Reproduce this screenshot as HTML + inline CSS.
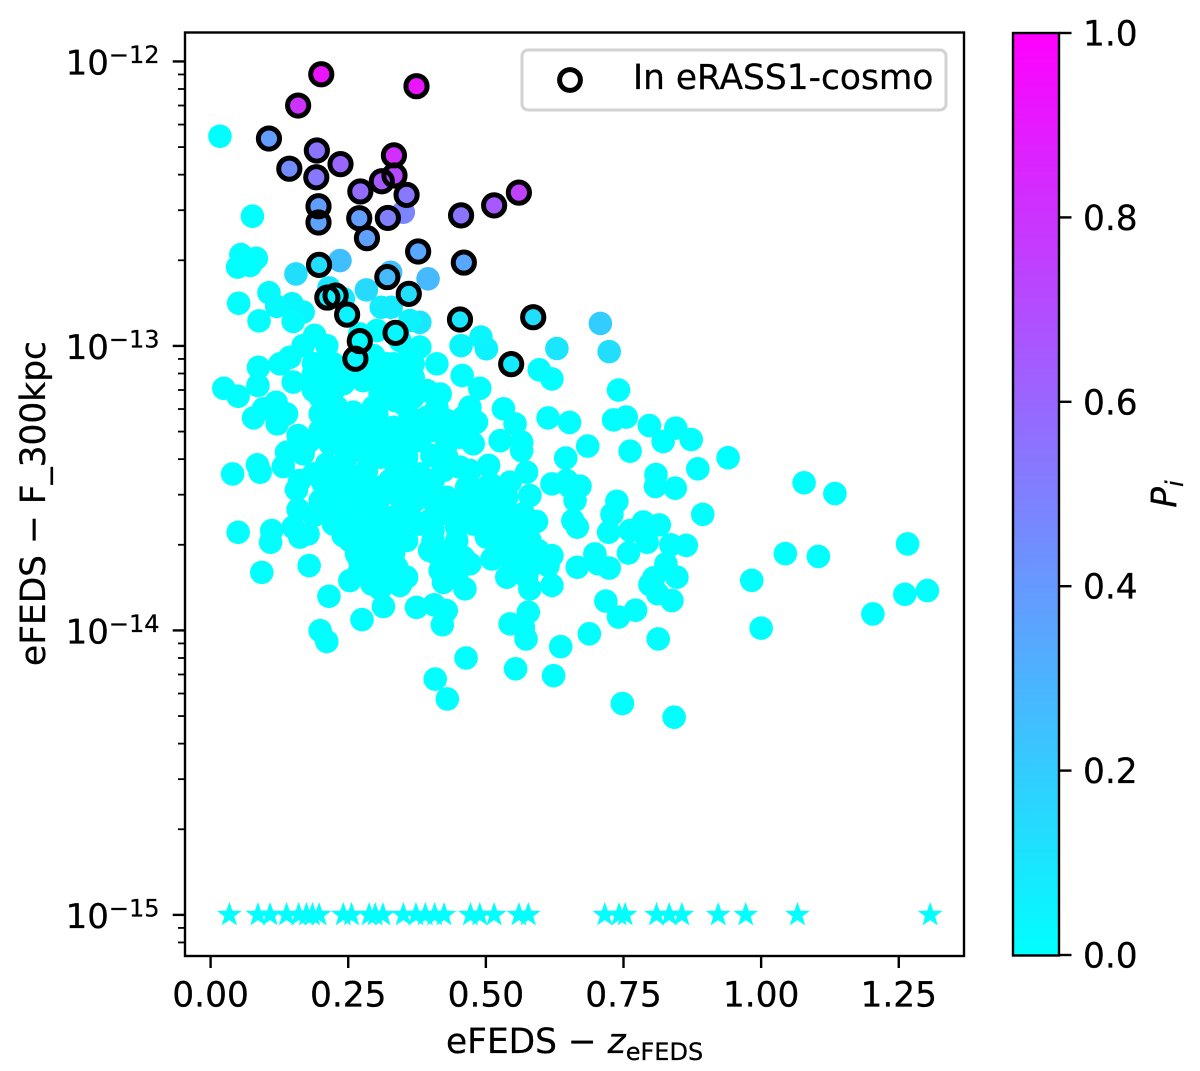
<!DOCTYPE html>
<html lang="en">
<head>
<meta charset="utf-8">
<title>eFEDS flux vs redshift</title>
<style>
html,body{margin:0;padding:0;background:#fff;}
svg{display:block;font-family:"DejaVu Sans","Liberation Sans",sans-serif;fill:#000;}
text{stroke:#000;stroke-width:0.25px;}
</style>
</head>
<body>
<svg id="chart" xmlns="http://www.w3.org/2000/svg" width="1200" height="1071" viewBox="0 0 1200 1071">
  <defs>
    <linearGradient id="cool-gradient" x1="0" y1="1" x2="0" y2="0">
      <stop offset="0" stop-color="#00ffff"/>
      <stop offset="1" stop-color="#ff00ff"/>
    </linearGradient>
  </defs>
  <rect x="0" y="0" width="1200" height="1071" fill="#fff"/>
  <rect x="185" y="33" width="779" height="923" fill="#fff"/>
  <g id="marks"></g>
  <rect x="185" y="32.5" width="779" height="923.5" fill="none" stroke="#000" stroke-width="2.4"/>
  <g id="axis-ticks"></g>
  <text x="446" y="1053" font-size="34.4">eFEDS − <tspan font-style="italic">z</tspan><tspan font-size="24" dy="7">eFEDS</tspan></text>
  <text transform="translate(45,503.5) rotate(-90)" text-anchor="middle" font-size="34.4">eFEDS − F_300kpc</text>
  <g>
    <rect x="522" y="50" width="424" height="60" rx="6" ry="6" fill="#fff" fill-opacity="0.8" stroke="#d2d2d2" stroke-width="3"/>
    <circle cx="570" cy="80" r="10.4" fill="#fff" stroke="#000" stroke-width="5"/>
    <text x="633" y="89" font-size="34.4">In eRASS1-cosmo</text>
  </g>
  <rect x="1013" y="33" width="46" height="922.5" fill="url(#cool-gradient)" stroke="#000" stroke-width="2.4"/>
  <g id="colorbar-ticks"></g>
  <text transform="translate(1176,494) rotate(-90)" text-anchor="middle" font-size="34.4" font-style="italic">P<tspan font-size="24" dy="7">i</tspan></text>
</svg>
<script>
// Tick values
const xTicks = [0, 0.25, 0.5, 0.75, 1, 1.25];
const xTickLabels = ["0.00", "0.25", "0.50", "0.75", "1.00", "1.25"];
const yTickExponents = [-12, -13, -14, -15];
const yTickLabels = ["−12", "−13", "−14", "−15"];
const colorbarTicks = [0, 0.2, 0.4, 0.6, 0.8, 1];
const colorbarTickLabels = ["0.0", "0.2", "0.4", "0.6", "0.8", "1.0"];

// Axis limits
const xLimits = [-0.0465, 1.3685];
const yLimits = [-15.1445, -11.9];

// Detected, P=0 sources: redshift and log10 flux
const cyanZ = [0.017,0.076,0.055,0.083,0.049,0.072,0.051,0.088,0.620,0.189,0.168,0.211,0.302,0.271,0.380,0.296,0.087,0.126,0.144,0.411,0.457,0.344,0.362,0.332,0.187,0.223,0.283,0.344,
0.024,0.050,0.086,0.150,0.078,0.096,0.119,0.138,0.121,0.159,0.138,0.132,0.085,0.090,0.040,0.156,0.159,0.188,0.050,0.111,0.109,0.150,0.162,0.177,0.093,0.179,0.215,0.275,0.199,0.211,0.314,0.374,0.406,0.428,0.421,0.464,0.408,0.430,0.544,0.577,0.568,0.573,0.554,0.623,0.636,
0.271,0.293,0.308,0.344,0.356,0.338,0.308,0.265,0.253,0.241,0.223,0.217,0.247,0.277,0.308,0.356,0.332,0.205,0.211,0.162,0.187,0.168,0.205,0.199,0.199,0.187,0.241,0.277,0.290,0.338,0.356,0.308,0.368,0.417,0.489,0.471,0.483,0.429,0.404,0.453,0.526,0.532,0.553,0.565,0.565,0.505,0.453,0.402,0.574,0.544,0.620,0.613,0.647,0.580,0.592,0.544,0.508,0.465,0.514,0.556,0.595,0.620,0.613,0.574,0.580,0.620,0.538,0.511,0.462,0.423,0.417,0.411,0.459,0.471,0.447,0.404,0.380,0.404,0.447,0.501,0.477,0.429,0.368,0.393,0.344,0.308,0.271,0.247,0.283,0.320,0.356,0.332,0.308,0.271,0.247,0.350,0.302,0.259,0.290,0.332,0.283,0.247,0.362,0.380,
0.741,0.732,0.755,0.797,0.845,0.822,0.873,0.940,0.685,0.762,0.652,0.645,0.885,0.809,0.808,0.844,0.894,1.078,1.134,0.738,0.729,0.723,0.671,0.653,0.662,0.647,0.658,0.666,0.762,0.786,0.815,0.793,0.780,0.836,0.864,0.759,0.698,0.666,0.704,0.724,0.827,0.847,0.805,0.798,0.812,0.838,0.718,0.741,0.772,0.688,0.813,0.748,0.842,0.983,1.044,1.104,1.000,1.266,1.261,1.302,1.203,
0.217,0.265,0.320,0.368,0.211,0.253,0.320,0.368,0.187,0.223,0.338,0.393,0.229,0.296,0.411,0.229,0.362,0.393,0.459,0.199,0.235,0.296,0.356,0.380,0.429,0.174,0.217,0.259,0.326,0.362,0.429,0.477,0.247,0.308,0.429,0.283,0.338,0.423,0.471,0.229,0.326,0.404,0.271,0.308,0.344,0.380,0.429,0.465,0.495,0.538,0.211,0.308,0.356,0.477,0.514,0.568,0.247,0.308,0.338,0.447,0.526,0.574,0.404,0.526,0.580,0.296,0.526,0.550,0.574,0.283,0.429,0.447,0.550,0.580,0.320,0.447,0.180,
0.217,0.244,0.299,0.371,0.398,0.444,0.489,0.535,0.471,0.420,0.199,0.244,0.290,0.344,0.326,0.271,0.380,0.335,0.444,0.508,0.562,0.544,0.444,0.398,0.326,0.271,0.253];
const cyanLogFlux = [-12.263,-12.544,-12.679,-12.692,-12.723,-12.717,-12.850,-12.912,-13.116,-12.963,-12.999,-12.999,-12.946,-12.958,-13.004,-13.034,-13.075,-13.063,-13.040,-13.063,-13.104,-12.981,-13.028,-13.063,-13.063,-13.063,-13.098,-13.110,
-13.149,-13.177,-13.139,-13.127,-13.253,-13.221,-13.198,-13.239,-13.274,-13.315,-13.374,-13.424,-13.418,-13.444,-13.450,-13.505,-13.575,-13.596,-13.655,-13.649,-13.690,-13.637,-13.672,-13.661,-13.796,-13.772,-13.880,-13.962,-14.001,-14.039,-13.916,-13.919,-13.910,-13.930,-13.980,-14.097,-14.171,-14.241,-13.977,-13.936,-13.989,-14.030,-14.135,-14.159,-14.057,
-13.790,-13.837,-13.854,-13.842,-13.813,-13.778,-13.778,-13.731,-13.684,-13.667,-13.626,-13.532,-13.590,-13.637,-13.684,-13.684,-13.731,-13.485,-13.415,-13.473,-13.450,-13.379,-13.321,-13.239,-13.180,-13.098,-13.133,-13.122,-13.110,-13.110,-13.075,-13.169,-13.180,-13.169,-13.149,-13.215,-13.268,-13.262,-13.297,-13.321,-13.333,-13.221,-13.274,-13.338,-13.368,-13.420,-13.426,-13.385,-13.444,-13.479,-13.485,-13.253,-13.485,-13.526,-13.617,-13.602,-13.485,-13.497,-13.555,-13.684,-13.719,-13.737,-13.772,-13.813,-13.854,-13.842,-13.813,-13.749,-13.854,-13.831,-13.790,-13.731,-13.743,-13.766,-13.684,-13.649,-13.626,-13.544,-13.567,-13.672,-13.626,-13.590,-13.473,-13.497,-13.497,-13.497,-13.497,-13.450,-13.379,-13.391,-13.391,-13.286,-13.309,-13.274,-13.333,-13.204,-13.239,-13.233,-13.333,-13.602,-13.567,-13.520,-13.567,-13.450,
-13.155,-13.260,-13.250,-13.280,-13.289,-13.336,-13.329,-13.393,-13.352,-13.370,-13.269,-13.394,-13.432,-13.452,-13.494,-13.500,-13.592,-13.481,-13.519,-13.546,-13.592,-13.655,-13.493,-13.496,-13.543,-13.473,-13.614,-13.637,-13.649,-13.619,-13.629,-13.690,-13.649,-13.699,-13.701,-13.728,-13.731,-13.778,-13.766,-13.781,-13.766,-13.813,-13.815,-13.839,-13.871,-13.895,-13.897,-13.953,-13.929,-14.012,-14.030,-14.257,-14.305,-13.824,-13.730,-13.740,-13.992,-13.696,-13.873,-13.860,-13.942,
-13.063,-13.063,-13.063,-13.063,-13.110,-13.110,-13.110,-13.110,-13.157,-13.157,-13.157,-13.157,-13.215,-13.215,-13.215,-13.251,-13.251,-13.251,-13.251,-13.297,-13.297,-13.297,-13.297,-13.297,-13.297,-13.344,-13.344,-13.344,-13.344,-13.344,-13.344,-13.344,-13.391,-13.391,-13.391,-13.438,-13.438,-13.438,-13.438,-13.473,-13.473,-13.473,-13.532,-13.532,-13.532,-13.532,-13.532,-13.532,-13.532,-13.532,-13.590,-13.590,-13.590,-13.590,-13.590,-13.590,-13.637,-13.637,-13.637,-13.637,-13.637,-13.637,-13.684,-13.684,-13.684,-13.731,-13.731,-13.731,-13.731,-13.778,-13.778,-13.778,-13.778,-13.778,-13.813,-13.813,-13.333,
-13.262,-13.438,-13.579,-13.544,-13.614,-13.544,-13.508,-13.544,-13.438,-13.403,-13.544,-13.649,-13.684,-13.684,-13.473,-13.333,-13.333,-13.192,-13.297,-13.649,-13.614,-13.702,-13.702,-13.719,-13.790,-13.755,-13.825];

// Detected sources with non-zero P
const tintedZ = [0.350,0.235,0.155,0.327,0.395,0.215,0.283,0.106,0.148,0.168,0.120,0.150,0.241,0.310,0.328,0.380,0.362,0.455,0.491,0.501,0.629,0.597,0.708,0.724];
const tintedLogFlux = [-12.530,-12.700,-12.747,-12.741,-12.764,-12.796,-12.803,-12.813,-12.852,-12.881,-12.861,-12.914,-12.834,-12.864,-12.864,-12.917,-12.911,-12.999,-12.969,-13.010,-13.009,-13.084,-12.921,-13.020];
const tintedP = [0.48,0.25,0.13,0.25,0.27,0.10,0.15,0.02,0.03,0.03,0.02,0.01,0.08,0.07,0.08,0.10,0.05,0.03,0.03,0.05,0.10,0.01,0.20,0.13];

// Sources in eRASS1-cosmo (drawn with a black ring)
const ringedZ = [0.201,0.374,0.159,0.106,0.193,0.236,0.143,0.334,0.333,0.311,0.192,0.272,0.356,0.196,0.196,0.270,0.322,0.284,0.455,0.515,0.560,0.377,0.460,0.197,0.321,0.360,0.212,0.227,0.248,0.453,0.586,0.336,0.271,0.263,0.546];
const ringedLogFlux = [-12.045,-12.087,-12.155,-12.271,-12.313,-12.361,-12.377,-12.401,-12.330,-12.421,-12.407,-12.457,-12.469,-12.509,-12.566,-12.551,-12.550,-12.621,-12.541,-12.506,-12.461,-12.668,-12.707,-12.715,-12.758,-12.817,-12.830,-12.823,-12.890,-12.907,-12.899,-12.954,-12.983,-13.045,-13.064];
const ringedP = [0.92,0.92,0.80,0.38,0.55,0.60,0.45,0.72,0.82,0.65,0.53,0.58,0.53,0.38,0.36,0.38,0.50,0.37,0.55,0.65,0.75,0.35,0.35,0.13,0.27,0.13,0.07,0.07,0.05,0.10,0.13,0.03,0.02,0.03,0.08];

// Non-detections, plotted as stars at the lower flux floor
const starZ = [0.034,0.086,0.108,0.138,0.160,0.174,0.185,0.197,0.241,0.256,0.288,0.299,0.313,0.350,0.373,0.390,0.407,0.424,0.472,0.489,0.515,0.560,0.577,0.716,0.742,0.753,0.810,0.833,0.856,0.922,0.972,1.066,1.307];
const starLogFlux = -15;

const SVG_NS = "http://www.w3.org/2000/svg";
const plotBox = { left: 185, right: 964, top: 33, bottom: 956 };
const barBox = { left: 1059, top: 33, bottom: 955 };

function xScale(v) {
  return plotBox.left + (v - xLimits[0]) / (xLimits[1] - xLimits[0]) * (plotBox.right - plotBox.left);
}
function yScale(v) {
  return plotBox.bottom - (v - yLimits[0]) / (yLimits[1] - yLimits[0]) * (plotBox.bottom - plotBox.top);
}
function barScale(v) {
  return barBox.bottom - v * (barBox.bottom - barBox.top);
}
function coolColor(p) {
  return "rgb(" + Math.round(255 * p) + "," + Math.round(255 * (1 - p)) + ",255)";
}
function make(tag, attrs, parent) {
  const el = document.createElementNS(SVG_NS, tag);
  Object.keys(attrs).forEach(function (k) { el.setAttribute(k, attrs[k]); });
  parent.appendChild(el);
  return el;
}

const marks = document.getElementById("marks");
const ticks = document.getElementById("axis-ticks");
const barTicks = document.getElementById("colorbar-ticks");

cyanZ.forEach(function (z, i) {
  const el = make("circle", { cx: xScale(z), cy: yScale(cyanLogFlux[i]), r: 11.8, fill: coolColor(0) }, marks);
  
  
});
tintedZ.forEach(function (z, i) {
  const el = make("circle", { cx: xScale(z), cy: yScale(tintedLogFlux[i]), r: 11.8, fill: coolColor(tintedP[i]) }, marks);
  
  
});
ringedZ.forEach(function (z, i) {
  const el = make("circle", { cx: xScale(z), cy: yScale(ringedLogFlux[i]), r: 11.8, fill: coolColor(ringedP[i]) }, marks);
  
  
});
starZ.forEach(function (z) {
  const cx = xScale(z), cy = yScale(starLogFlux), pts = [];
  for (let k = 0; k < 10; k++) {
    const radius = k % 2 ? 5.2 : 13;
    const angle = -Math.PI / 2 + k * Math.PI / 5;
    pts.push((cx + radius * Math.cos(angle)).toFixed(2) + "," + (cy + radius * Math.sin(angle)).toFixed(2));
  }
  const el = make("polygon", { points: pts.join(" "), fill: coolColor(0) }, marks);
  
  
});
ringedZ.forEach(function (z, i) {
  const el = make("circle", { cx: xScale(z), cy: yScale(ringedLogFlux[i]), r: 10.6, fill: "none", stroke: "#000", "stroke-width": 5 }, marks);
  
  
});

xTicks.forEach(function (v, i) {
  const x = xScale(v);
  const tick = make("line", { x1: x, x2: x, y1: 956, y2: 968, stroke: "#000", "stroke-width": 2.4 }, ticks);
  
  
  const label = make("text", { x: x, y: 1006.7, "text-anchor": "middle", "font-size": 34.4 }, ticks);
  
  
  label.textContent = xTickLabels[i];
});

yTickExponents.forEach(function (e, i) {
  const y = yScale(e);
  const tick = make("line", { x1: 185, x2: 172.7, y1: y, y2: y, stroke: "#000", "stroke-width": 2.4 }, ticks);
  
  
  const label = make("text", { x: 159.5, y: y + 13, "text-anchor": "end", "font-size": 34 }, ticks);
  
  
  label.textContent = "10";
  const sup = make("tspan", { "font-size": 24, dy: -11.6 }, label);
  sup.textContent = yTickLabels[i];
});

[-16, -15, -14, -13, -12].forEach(function (decade) {
  for (let m = 2; m < 10; m++) {
    const v = decade + Math.log10(m);
    if (v < yLimits[0] || v > yLimits[1]) continue;
    const y = yScale(v);
    const tick = make("line", { x1: 185, x2: 178, y1: y, y2: y, stroke: "#000", "stroke-width": 1.8 }, ticks);
    
    
  }
});

colorbarTicks.forEach(function (v, i) {
  const y = barScale(v);
  const tick = make("line", { x1: barBox.left, x2: barBox.left + 12.5, y1: y, y2: y, stroke: "#000", "stroke-width": 2.4 }, barTicks);
  
  
  const label = make("text", { x: 1083, y: y + 12.5, "font-size": 34.4 }, barTicks);
  
  
  label.textContent = colorbarTickLabels[i];
});
</script>
</body>
</html>
